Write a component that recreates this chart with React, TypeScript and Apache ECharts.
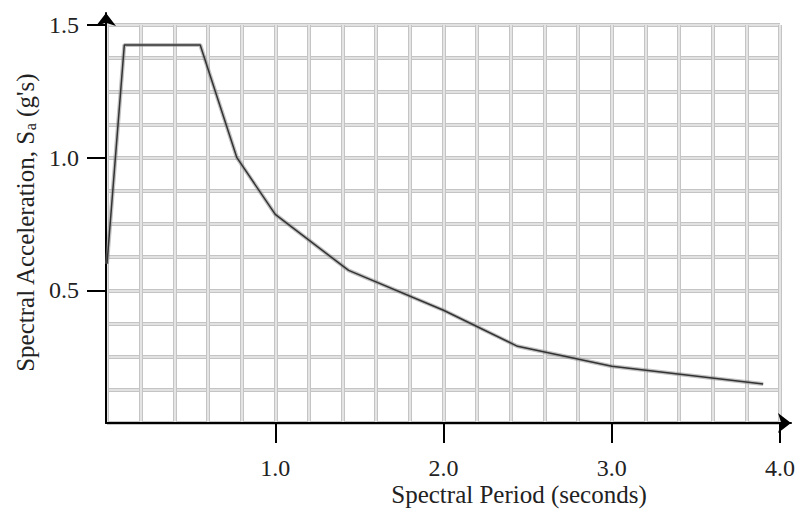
import React, { useEffect, useRef } from "react";
import * as echarts from "echarts";

const periods = [0, 0.103, 0.554, 0.772, 1.0, 1.436, 2.0, 2.44, 3.0, 3.9];
const accel = [0.6, 1.425, 1.425, 1.0, 0.786, 0.575, 0.425, 0.289, 0.214, 0.147];
const xTickValues = [1, 2, 3, 4];
const yTickValues = [0.5, 1.0, 1.5];
const xTitle = "Spectral Period (seconds)";
const yTitleMain = "Spectral Acceleration, S";
const yTitleSub = "a";
const yTitleEnd = " (g's)";

const FONT = "'Liberation Serif', 'Times New Roman', serif";

export default function App() {
  const ref = useRef<HTMLDivElement>(null);
  useEffect(() => {
    if (!ref.current) return;
    const chart = echarts.init(ref.current, null, { renderer: "svg" });
    const data = periods.map((p, i) => [p, accel[i]]);
    const splitAxisX = (color: string, width: number) => ({
      type: "value", gridIndex: 0, min: 0, max: 4, interval: 0.2,
      axisLine: { show: false }, axisTick: { show: false }, axisLabel: { show: false },
      splitLine: { show: true, lineStyle: { color, width } },
    });
    const splitAxisY = (color: string, width: number) => ({
      type: "value", gridIndex: 0, min: 0, max: 1.5, interval: 0.125,
      axisLine: { show: false }, axisTick: { show: false }, axisLabel: { show: false },
      splitLine: { show: true, lineStyle: { color, width } },
    });
    chart.setOption({
      animation: false,
      backgroundColor: "#ffffff",
      grid: [
        { left: 107, top: 25, right: 18, bottom: 87 },
        { left: 106, top: 13, right: 7, bottom: 87 },
      ],
      xAxis: [
        {
          type: "value", gridIndex: 0, min: 0, max: 4,
          axisLine: { show: false },
          axisTick: { show: true, customValues: xTickValues, length: 20, lineStyle: { color: "#000", width: 2 } },
          axisLabel: {
            show: true, customValues: xTickValues, margin: 33,
            formatter: (v: number) => v.toFixed(1),
            color: "#222", fontFamily: FONT, fontSize: 24,
          },
          splitLine: { show: false },
        },
        splitAxisX("#c4c4c4", 4),
        splitAxisX("#ededed", 1.6),
        {
          type: "value", gridIndex: 1, min: 0, max: 1,
          axisLine: { show: true, symbol: ["none", "arrow"], symbolSize: [15, 13], lineStyle: { color: "#000", width: 2 } },
          axisTick: { show: false }, axisLabel: { show: false }, splitLine: { show: false },
        },
      ],
      yAxis: [
        {
          type: "value", gridIndex: 0, min: 0, max: 1.5,
          axisLine: { show: false },
          axisTick: { show: true, customValues: yTickValues, length: 20, lineStyle: { color: "#000", width: 2 } },
          axisLabel: {
            show: true, customValues: yTickValues, margin: 28,
            formatter: (v: number) => v.toFixed(1),
            color: "#222", fontFamily: FONT, fontSize: 24,
          },
          splitLine: { show: false },
        },
        splitAxisY("#c4c4c4", 4),
        splitAxisY("#ededed", 1.6),
        {
          type: "value", gridIndex: 1, min: 0, max: 1,
          axisLine: { show: true, symbol: ["none", "arrow"], symbolSize: [15, 13], lineStyle: { color: "#000", width: 2 } },
          axisTick: { show: false }, axisLabel: { show: false }, splitLine: { show: false },
        },
      ],
      series: [
        {
          type: "line", xAxisIndex: 0, yAxisIndex: 0, data, showSymbol: false, symbol: "none",
          lineStyle: { color: "rgba(140,140,140,0.55)", width: 4 }, z: 3, silent: true,
        },
        {
          type: "line", xAxisIndex: 0, yAxisIndex: 0, data, showSymbol: false, symbol: "none",
          lineStyle: { color: "#333", width: 1.5 }, z: 4, silent: true,
        },
      ],
      graphic: [
        {
          type: "text", x: 519, y: 494,
          style: { text: xTitle, fontFamily: FONT, fontSize: 25, fill: "#222", textAlign: "center", textVerticalAlign: "middle" },
        },
        {
          type: "text", x: 25, y: 223, rotation: Math.PI / 2,
          style: {
            text: yTitleMain + "{sub|" + yTitleSub + "}" + yTitleEnd,
            fontFamily: FONT, fontSize: 25, fill: "#222", textAlign: "center", textVerticalAlign: "middle",
            rich: { sub: { fontFamily: FONT, fontSize: 16, fill: "#222", padding: [10, 0, 0, 0] } },
          },
        },
      ],
    });
    return () => chart.dispose();
  }, []);
  return <div ref={ref} style={{ position: "fixed", left: 0, top: 0, width: 798, height: 510 }} />;
}
